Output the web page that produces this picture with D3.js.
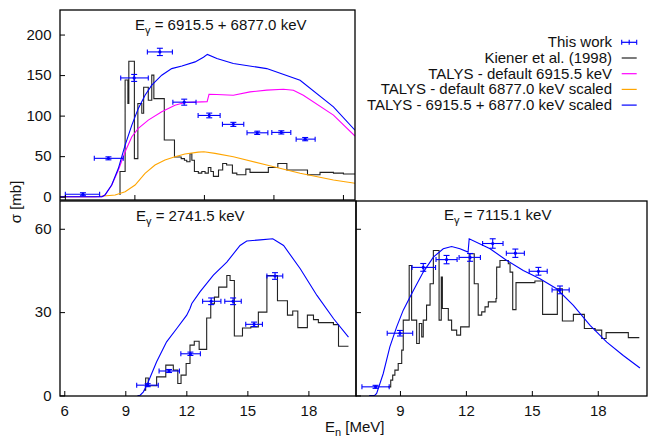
<!DOCTYPE html>
<html>
<head>
<meta charset="utf-8">
<script src="https://cdn.jsdelivr.net/npm/d3@7"></script>
<style>
  body { margin: 0; background: #fff; }
  text { font-family: "Liberation Sans", Arial, Helvetica, sans-serif; font-size: 15px; fill: #111; }
</style>
</head>
<body>
<svg id="chart" width="649" height="440"></svg>
<script>
// ---------- Eγ = 6915.5 + 6877.0 keV ----------
const topWorkE     = [6.78, 7.88, 8.99, 10.10, 11.15, 12.23, 13.27, 14.30, 15.34, 16.37];
const topWorkELo   = [6.02, 7.27, 8.41, 9.56, 10.66, 11.75, 12.80, 13.86, 14.93, 15.98];
const topWorkEHi   = [7.50, 8.52, 9.60, 10.64, 11.66, 12.70, 13.72, 14.76, 15.75, 16.80];
const topWorkSigma = [3.0, 47.3, 146.5, 178.6, 116.6, 100.2, 89.2, 78.8, 79.3, 71.0];
const topWorkErr   = [1.0, 1.5, 4.3, 4.5, 3.7, 2.9, 2.5, 2.0, 2.0, 2.0];

const topKienerE     = [8.38, 8.38, 8.60, 8.72, 8.76, 9.00, 9.15, 9.32, 9.40, 9.60, 9.75, 9.84, 10.29, 10.73, 11.02, 11.16, 11.26, 11.40, 11.48, 11.59, 11.76, 11.91, 12.05, 12.19, 12.30, 12.41, 12.63, 12.81, 12.98, 13.23, 13.42, 13.81, 13.99, 14.78, 15.19, 15.58, 16.47, 17.01, 17.59, 18.02, 18.60];
const topKienerSigma = [2, 31, 144, 115, 167, 47, 115, 103, 135, 119, 150, 121, 70, 49, 47, 45, 43, 53, 45, 31, 29, 31, 29, 36, 31, 25, 33, 41, 39, 29, 27, 34, 30, 36, 41, 33, 27, 30, 29, 28, 28];

const topTalysSumE     = [5.79, 7.60, 7.73, 8.02, 8.31, 8.60, 8.89, 9.17, 9.46, 9.75, 10.18, 10.61, 11.05, 11.62, 11.98, 12.15, 12.56, 13.27, 14.71, 16.15, 17.59, 18.52];
const topTalysSumSigma = [0, 0, 2.0, 14.4, 35.0, 63.7, 88.3, 108.9, 125.2, 137.6, 149.9, 158.0, 161.3, 166.3, 172.0, 175.5, 170.4, 164.3, 158.0, 143.7, 110.8, 82.0];

const topTalys6915E     = [5.79, 7.60, 7.73, 8.02, 8.31, 8.60, 8.89, 9.17, 9.60, 10.18, 10.75, 11.18, 11.91, 12.14, 12.22, 12.55, 13.27, 13.99, 14.71, 15.43, 15.86, 16.29, 17.59, 18.52];
const topTalys6915Sigma = [0, 0, 2.0, 14.0, 32.9, 55.4, 73.9, 84.2, 94.5, 104.7, 112.9, 116.2, 117.0, 117.2, 126.3, 126.0, 125.2, 129.3, 131.4, 132.6, 131.4, 125.2, 100.6, 74.8];

const topTalys6877E     = [5.79, 7.30, 8.17, 8.60, 9.03, 9.46, 9.89, 10.32, 10.75, 11.18, 11.76, 12.00, 12.48, 13.27, 14.71, 16.15, 17.59, 18.52];
const topTalys6877Sigma = [0, 0, 2.0, 6.2, 14.4, 28.8, 39.0, 45.2, 49.3, 52.6, 55.0, 55.4, 53.4, 49.3, 39.0, 28.8, 20.5, 16.5];

// ---------- Eγ = 2741.5 keV ----------
const blWorkE     = [10.10, 11.15, 12.20, 13.22, 14.30, 15.33, 16.36];
const blWorkELo   = [9.56, 10.66, 11.73, 12.80, 13.89, 14.92, 15.96];
const blWorkEHi   = [10.62, 11.66, 12.69, 13.70, 14.70, 15.74, 16.74];
const blWorkSigma = [3.7, 8.8, 15.0, 33.9, 33.9, 25.6, 43.0];
const blWorkErr   = [0.5, 0.5, 0.6, 1.2, 1.2, 0.8, 1.2];

const blKienerE     = [9.92, 10.00, 10.13, 10.54, 10.99, 11.36, 11.58, 11.74, 11.99, 12.18, 12.39, 12.63, 13.00, 13.20, 13.38, 13.59, 13.99, 14.15, 14.36, 14.76, 15.17, 15.54, 15.96, 16.48, 16.97, 17.23, 17.48, 17.95, 18.25, 18.49, 19.23, 19.48, 19.97];
const blKienerSigma = [1.9, 6.3, 3.5, 6.7, 10.9, 9.1, 4.3, 7.3, 11.5, 18.1, 19.5, 16.6, 27.9, 33.0, 35.4, 39.0, 43.2, 41.4, 21.4, 24.3, 24.7, 30.0, 43.2, 34.1, 28.9, 30.4, 24.4, 28.9, 27.3, 26.2, 25.5, 17.7, 17.7];

const blTalysE     = [9.60, 9.72, 9.89, 10.13, 10.54, 11.03, 11.53, 12.02, 12.18, 12.27, 12.67, 13.33, 13.99, 14.64, 14.97, 15.63, 16.25, 16.78, 17.60, 18.42, 19.24, 19.97];
const blTalysSigma = [0, 0, 1.3, 4.9, 12.1, 19.3, 24.1, 28.9, 31.3, 33.1, 37.3, 43.3, 48.0, 54.0, 55.6, 56.0, 56.4, 54.0, 45.6, 36.0, 27.6, 21.0];

// ---------- Eγ = 7115.1 keV ----------
const brWorkE     = [7.89, 9.00, 10.06, 11.12, 12.19, 13.22, 14.25, 15.30, 16.28];
const brWorkELo   = [7.27, 8.42, 9.55, 10.64, 11.69, 12.76, 13.84, 14.88, 15.92];
const brWorkEHi   = [8.51, 9.58, 10.62, 11.60, 12.66, 13.69, 14.66, 15.70, 16.70];
const brWorkSigma = [3.1, 22.4, 46.1, 48.9, 49.7, 54.7, 51.2, 44.7, 38.0];
const brWorkErr   = [0.5, 1.0, 1.4, 1.5, 1.4, 1.7, 1.5, 1.4, 1.4];

const brKienerE     = [8.47, 8.58, 8.67, 8.77, 8.92, 9.08, 9.15, 9.42, 9.53, 9.76, 9.88, 9.99, 10.06, 10.21, 10.37, 10.52, 10.78, 10.88, 10.93, 11.20, 11.35, 11.58, 11.76, 12.15, 12.38, 12.56, 12.72, 12.87, 13.02, 13.37, 13.40, 13.55, 13.93, 14.01, 14.13, 14.28, 15.14, 15.49, 16.16, 16.39, 16.89, 17.39, 17.88, 18.18, 18.38, 19.39, 19.89];
const brKienerSigma = [3.1, 5.5, 7.3, 9.1, 11.5, 16.3, 27.1, 46.8, 27.1, 18.7, 25.9, 21.1, 27.1, 32.5, 40.2, 52.2, 27.1, 42.6, 31.3, 27.1, 23.5, 21.7, 24.7, 51.0, 40.2, 28.9, 30.1, 31.9, 33.7, 34.9, 46.2, 48.6, 47.4, 44.4, 30.9, 40.6, 41.2, 29.2, 38.4, 26.8, 29.2, 24.1, 23.5, 20.5, 22.6, 20.8, 20.8];

const brTalysE     = [7.60, 7.85, 7.94, 8.24, 8.54, 8.85, 9.15, 9.61, 10.06, 10.52, 10.97, 11.35, 11.73, 12.10, 12.15, 13.10, 13.86, 14.61, 15.37, 16.13, 16.89, 17.65, 18.41, 19.16, 19.92];
const brTalysSigma = [0, 0, 0.7, 7.9, 17.5, 24.7, 30.7, 37.8, 44.4, 49.8, 52.8, 53.6, 52.8, 51.6, 56.4, 52.8, 48.6, 45.0, 42.0, 38.4, 32.4, 25.2, 19.2, 14.4, 9.9];

// ---------- axis ticks and text ----------
const xTickValues   = [6, 9, 12, 15, 18];
const topYTicks     = [0, 50, 100, 150, 200];
const bottomYTicks  = [0, 30, 60];
const legendLabels  = ["This work", "Kiener et al. (1998)", "TALYS - default 6915.5 keV",
                       "TALYS - default 6877.0 keV scaled", "TALYS - 6915.5 + 6877.0 keV scaled"];

const BLUE = "#0000ff", MAGENTA = "#ff00ff", ORANGE = "#ffa500", HIST = "#222";

const svg = d3.select("#chart");

const zip = (a, b) => a.map((v, i) => [v, b[i]]);

const panels = [
  { key: "top", x0: 60, x1: 355, y0: 10, y1: 200, xDom: [5.79, 18.52], yDom: [-4.1, 230.3],
    yTicks: topYTicks, yLabels: true, xLabels: false,
    titleVal: " = 6915.5 + 6877.0 keV", titleX: 135, titleY: 29.5,
    work: [topWorkE, topWorkELo, topWorkEHi, topWorkSigma, topWorkErr],
    kiener: [topKienerE, topKienerSigma],
    curves: [[topTalys6877E, topTalys6877Sigma, ORANGE], [topTalys6915E, topTalys6915Sigma, MAGENTA], [topTalysSumE, topTalysSumSigma, BLUE]] },
  { key: "bl", x0: 60, x1: 356, y0: 201, y1: 396, xDom: [5.79, 20.34], yDom: [-0.2, 70],
    yTicks: bottomYTicks, yLabels: true, xLabels: true,
    titleVal: " = 2741.5 keV", titleX: 136, titleY: 221,
    work: [blWorkE, blWorkELo, blWorkEHi, blWorkSigma, blWorkErr],
    kiener: [blKienerE, blKienerSigma],
    curves: [[blTalysE, blTalysSigma, BLUE]] },
  { key: "br", x0: 356, x1: 647, y0: 201, y1: 396, xDom: [7.0, 20.24], yDom: [-0.2, 70],
    yTicks: bottomYTicks, yLabels: false, xLabels: true,
    titleVal: " = 7115.1 keV", titleX: 444, titleY: 220,
    work: [brWorkE, brWorkELo, brWorkEHi, brWorkSigma, brWorkErr],
    kiener: [brKienerE, brKienerSigma],
    curves: [[brTalysE, brTalysSigma, BLUE]] }
];

const defs = svg.append("defs");

panels.forEach(p => {
  const x = d3.scaleLinear().domain(p.xDom).range([p.x0, p.x1]);
  const y = d3.scaleLinear().domain(p.yDom).range([p.y1, p.y0]);

  defs.append("clipPath").attr("id", "clip-" + p.key)
    .append("rect").attr("x", p.x0).attr("y", p.y0)
    .attr("width", p.x1 - p.x0).attr("height", p.y1 - p.y0);

  const g = svg.append("g");
  const plot = g.append("g").attr("clip-path", `url(#clip-${p.key})`);

  // Kiener et al. histogram
  plot.append("path")
    .datum(zip(p.kiener[0], p.kiener[1]))
    .attr("fill", "none").attr("stroke", HIST).attr("stroke-width", 1.1)
    .attr("d", d3.line().x(d => x(d[0])).y(d => y(d[1])).curve(d3.curveStepAfter));

  // TALYS curves
  p.curves.forEach(([E, S, col]) => {
    plot.append("path")
      .datum(zip(E, S))
      .attr("fill", "none").attr("stroke", col).attr("stroke-width", 1.1)
      .attr("d", d3.line().x(d => x(d[0])).y(d => y(d[1])));
  });

  // measured points with error bars
  const [wE, wLo, wHi, wS, wErr] = p.work;
  const pts = plot.append("g").attr("stroke", BLUE).attr("stroke-width", 1.1).attr("fill", "none");
  wE.forEach((e, i) => {
    const cx = x(e), cy = y(wS[i]);
    const xl = x(wLo[i]), xr = x(wHi[i]);
    const yt = y(wS[i] + wErr[i]), yb = y(wS[i] - wErr[i]);
    pts.append("line").attr("x1", xl).attr("x2", xr).attr("y1", cy).attr("y2", cy);
    pts.append("line").attr("x1", xl).attr("x2", xl).attr("y1", cy - 2.5).attr("y2", cy + 2.5);
    pts.append("line").attr("x1", xr).attr("x2", xr).attr("y1", cy - 2.5).attr("y2", cy + 2.5);
    pts.append("line").attr("x1", cx).attr("x2", cx).attr("y1", Math.min(yt, cy - 1.5)).attr("y2", Math.max(yb, cy + 1.5));
    pts.append("line").attr("x1", cx - 3).attr("x2", cx + 3).attr("y1", Math.min(yt, cy - 1.5)).attr("y2", Math.min(yt, cy - 1.5));
    pts.append("line").attr("x1", cx - 3).attr("x2", cx + 3).attr("y1", Math.max(yb, cy + 1.5)).attr("y2", Math.max(yb, cy + 1.5));
    pts.append("circle").attr("cx", cx).attr("cy", cy).attr("r", 1.6).attr("fill", BLUE).attr("stroke", "none");
  });

  // axes (ticks point inward)
  const xAxis = d3.axisBottom(x).tickValues(xTickValues.filter(v => v >= p.xDom[0] && v <= p.xDom[1]))
    .tickSize(-5).tickPadding(9.5);
  if (!p.xLabels) xAxis.tickFormat("");
  const gx = g.append("g").attr("transform", `translate(0,${p.y1})`).call(xAxis);

  const yAxis = d3.axisLeft(y).tickValues(p.yTicks).tickSize(-5).tickPadding(8.5);
  if (!p.yLabels) yAxis.tickFormat("");
  const gy = g.append("g").attr("transform", `translate(${p.x0},0)`).call(yAxis);

  [gx, gy].forEach(a => {
    a.select(".domain").remove();
    a.selectAll("line").attr("stroke", "#000");
    a.selectAll("text").attr("font-size", 15).attr("fill", "#111")
      .attr("font-family", '"Liberation Sans", Arial, sans-serif');
  });

  // frame
  g.append("rect").attr("x", p.x0).attr("y", p.y0)
    .attr("width", p.x1 - p.x0).attr("height", p.y1 - p.y0)
    .attr("fill", "none").attr("stroke", "#000").attr("stroke-width", 1.3);

  // panel title
  const t = g.append("text").attr("x", p.titleX).attr("y", p.titleY);
  t.append("tspan").text("E");
  t.append("tspan").attr("dy", 4).attr("font-size", 11).text("γ");
  t.append("tspan").attr("dy", -4).text(p.titleVal);
});

// axis titles
svg.append("text").attr("transform", "translate(21,202) rotate(-90)")
  .attr("text-anchor", "middle").text("σ [mb]");
const xl = svg.append("text").attr("x", 325).attr("y", 432);
xl.append("tspan").text("E");
xl.append("tspan").attr("dy", 4).attr("font-size", 11).text("n");
xl.append("tspan").attr("dy", -4).text(" [MeV]");

// legend
const legendColors = [BLUE, HIST, MAGENTA, ORANGE, BLUE];
const leg = svg.append("g");
legendLabels.forEach((lab, i) => {
  const by = 47.3 + i * 15.7;
  leg.append("text").attr("x", 612).attr("y", by).attr("text-anchor", "end")
    .attr("font-size", 14).text(lab);
  const ly = by - 5;
  leg.append("line").attr("x1", 621.7).attr("x2", 636.7).attr("y1", ly).attr("y2", ly)
    .attr("stroke", legendColors[i]).attr("stroke-width", 1.2);
  if (i === 0) {
    [621.7, 629.2, 636.7].forEach(lx => {
      leg.append("line").attr("x1", lx).attr("x2", lx).attr("y1", ly - 2.5).attr("y2", ly + 2.5)
        .attr("stroke", BLUE).attr("stroke-width", 1.1);
    });
  }
});
</script>
</body>
</html>
